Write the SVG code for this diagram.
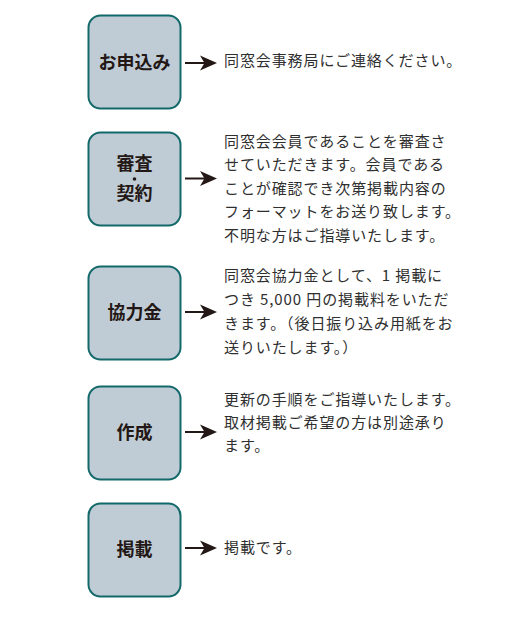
<svg xmlns="http://www.w3.org/2000/svg" width="510" height="637" viewBox="0 0 510 637">
<defs>
<style>
.box{fill:#c0ccd5;stroke:#13696a;stroke-width:2}
.lbl{font-family:"Noto Sans CJK JP","Noto Sans",sans-serif;font-size:18px;font-weight:bold;fill:#231815;text-anchor:middle}
.txt{font-family:"Noto Sans CJK JP","Noto Sans",sans-serif;font-size:15px;fill:#2f2f2f;letter-spacing:0.9px}
.ln{stroke:#231815;stroke-width:2;fill:none}
.hd{fill:#231815}
</style>
<g id="ah"><path class="hd" d="M0 0 L-17 -7.5 L-12.5 0 L-17 7.5 Z"/></g>
</defs>
<rect width="510" height="637" fill="#ffffff"/>

<g id="n1">
<rect class="box" x="88.5" y="15.5" width="92" height="93" rx="12"/>
<text class="lbl" x="134.5" y="68.5">お申込み</text>
</g>
<g id="n2">
<rect class="box" x="88.5" y="132.5" width="92" height="93" rx="12"/>
<text class="lbl" x="134.5" y="170">審査</text>
<circle cx="134.5" cy="179" r="1.8" fill="#231815"/>
<text class="lbl" x="134.5" y="200">契約</text>
</g>
<g id="n3">
<rect class="box" x="88.5" y="266.5" width="92" height="93" rx="12"/>
<text class="lbl" x="134.5" y="319">協力金</text>
</g>
<g id="n4">
<rect class="box" x="88.5" y="386.5" width="92" height="93" rx="12"/>
<text class="lbl" x="134.5" y="439">作成</text>
</g>
<g id="n5">
<rect class="box" x="88.5" y="503.5" width="92" height="93" rx="12"/>
<text class="lbl" x="134.5" y="555.5">掲載</text>
</g>

<g id="connectors">
<line class="ln" x1="185" y1="63" x2="206" y2="63"/><use href="#ah" x="217" y="63"/>
<line class="ln" x1="185" y1="178.5" x2="206" y2="178.5"/><use href="#ah" x="217" y="178.5"/>
<line class="ln" x1="185" y1="312" x2="206" y2="312"/><use href="#ah" x="217" y="312"/>
<line class="ln" x1="185" y1="432" x2="206" y2="432"/><use href="#ah" x="217" y="432"/>
<line class="ln" x1="185" y1="548" x2="206" y2="548"/><use href="#ah" x="217" y="548"/>
</g>

<g id="t1">
<text class="txt" x="224" y="65.5">同窓会事務局にご連絡ください。</text>
</g>
<g id="t2">
<text class="txt" x="224" y="146.5">同窓会会員であることを審査さ</text>
<text class="txt" x="224" y="170">せていただきます。会員である</text>
<text class="txt" x="224" y="193.5">ことが確認でき次第掲載内容の</text>
<text class="txt" x="224" y="217">フォーマットをお送り致します。</text>
<text class="txt" x="224" y="240.5">不明な方はご指導いたします。</text>
</g>
<g id="t3">
<text class="txt" x="224" y="280.5">同窓会協力金として、1 掲載に</text>
<text class="txt" x="224" y="304.5">つき 5,000 円の掲載料をいただ</text>
<text class="txt" x="224" y="328.5">きます。（後日振り込み用紙をお</text>
<text class="txt" x="224" y="352.5">送りいたします。）</text>
</g>
<g id="t4">
<text class="txt" x="224" y="404.5">更新の手順をご指導いたします。</text>
<text class="txt" x="224" y="427.5">取材掲載ご希望の方は別途承り</text>
<text class="txt" x="224" y="450.5">ます。</text>
</g>
<g id="t5">
<text class="txt" x="224" y="553">掲載です。</text>
</g>
</svg>
